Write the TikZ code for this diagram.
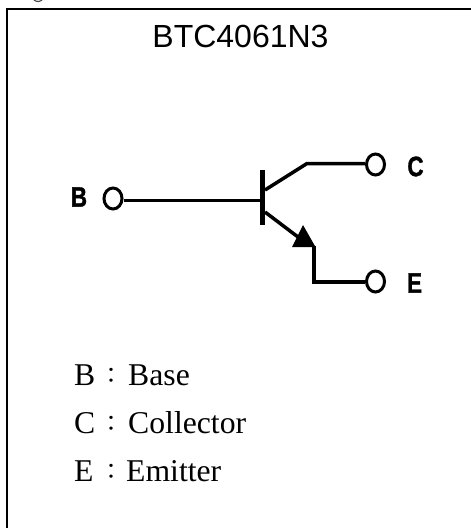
\documentclass[tikz,border=0pt]{standalone}
\usepackage{fontspec}
\usetikzlibrary{shapes.geometric}
\setmainfont{Liberation Serif}
\newfontfamily\arialf{Liberation Sans}
\newfontfamily\pinf[BoldFeatures={FakeBold=1.5}]{Liberation Sans}
\newfontfamily\cjkf{Noto Sans CJK TC}
\tikzset{
  x=1pt,y=-1pt,
  wire/.style={line width=3.5pt,line cap=butt,line join=miter},
  term/.style={ellipse,draw,line width=3pt,fill=white,inner sep=0pt,minimum width=18pt,minimum height=21pt},
  pinlabel/.style={font=\pinf\bfseries\fontsize{28}{28}\selectfont,inner sep=0pt,anchor=center,xscale=0.8},
  legend/.style={font=\fontsize{31.7}{32}\selectfont,inner sep=0pt,anchor=base west},
  colon/.style={font=\cjkf\fontsize{22}{22}\selectfont,inner sep=0pt,anchor=base},
}
\begin{document}
\begin{tikzpicture}
\useasboundingbox (0,0) rectangle (471,528);
\draw[line width=2.5pt] (7,530) -- (7,9) -- (473,9);
\draw[line width=1.2pt,black!70] (34,0) .. controls (37,2) and (39,2) .. (42,0);
\node[font=\arialf\fontsize{32}{32}\selectfont,inner sep=0pt] (title) at (240.5,36) {BTC4061N3};
\node[term] (b) at (113,198.5) {};
\node[term] (c) at (375.5,164.5) {};
\node[term] (e) at (375.5,281.5) {};
\node[pinlabel] (lb) at (79,197) {B};
\node[pinlabel] (lc) at (415.5,166.5) {C};
\node[pinlabel] (le) at (414.5,283) {E};
\coordinate (bj) at (262,200.5);
\coordinate (cj1) at (265,190);
\coordinate (cj2) at (307,163.5);
\coordinate (ej1) at (265,212);
\coordinate (ej2) at (314,246);
\coordinate (ej3) at (314,282);
\draw[line width=5pt] (262.5,170) -- (262.5,225);
\draw[wire] (b.east |- bj) -- (bj);
\draw[wire] (cj1) -- (cj2) -- (c.west |- cj2);
\draw[wire] (ej1) -- (298,237);
\draw[wire] (ej2) -- (ej3) -- (e.west |- ej3);
\fill (303,225) -- (315.5,247) -- (292,247) -- cycle;
\node[legend] (t1) at (74,385) {B};
\node[colon] at (111,383.6) {：};
\node[legend] (t2) at (128,385) {Base};
\node[legend] (t3) at (74,433) {C};
\node[colon] at (111,431.6) {：};
\node[legend] (t4) at (128,433) {Collector};
\node[legend] (t5) at (74,481) {E};
\node[colon] at (111,479.6) {：};
\node[legend] (t6) at (126,481) {Emitter};
\end{tikzpicture}
\end{document}
